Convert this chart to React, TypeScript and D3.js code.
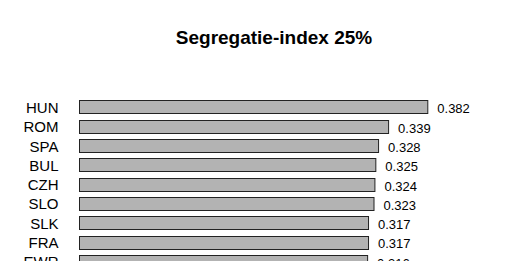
import React from "react";
import * as d3 from "d3";

const categories = ["HUN", "ROM", "SPA", "BUL", "CZH", "SLO", "SLK", "FRA", "EWR"];
const values = [0.382, 0.339, 0.328, 0.325, 0.324, 0.323, 0.317, 0.317, 0.316];
const title = "Segregatie-index 25%";

export default function App() {
  const W = 511;
  const H = 261;
  const x = d3.scaleLinear().domain([0, 0.382]).range([79, 427.3]);
  const step = 19.3;
  const y = d3
    .scaleBand<string>()
    .domain(categories)
    .range([97.1, 97.1 + categories.length * step])
    .paddingInner(0.35)
    .paddingOuter(0.175);
  const font = "'Liberation Sans', Arial, Helvetica, sans-serif";
  return (
    <svg
      width={W}
      height={H}
      style={{ position: "absolute", left: 0, top: 0, background: "#fff" }}
    >
      <rect x={0} y={0} width={W} height={H} fill="#fff" />
      <text
        x={274}
        y={44}
        textAnchor="middle"
        fontFamily={font}
        fontWeight="bold"
        fontSize={19}
        fill="#000"
      >
        {title}
      </text>
      {categories.map((c, i) => {
        const y0 = y(c)!;
        const bh = y.bandwidth();
        const cy = y0 + bh / 2;
        return (
          <g key={c}>
            <rect
              x={x(0) + 0.5}
              y={Math.round(y0) + 0.5}
              width={x(values[i]) - x(0)}
              height={Math.round(bh)}
              fill="#b3b3b3"
              stroke="#222"
              strokeWidth={1}
            />
            <text
              x={58.5}
              y={cy + 6.2}
              textAnchor="end"
              fontFamily={font}
              fontSize={15}
              fill="#000"
            >
              {c}
            </text>
            <text
              x={x(values[i]) + 10}
              y={cy + 6.6}
              textAnchor="start"
              fontFamily={font}
              fontSize={13}
              fill="#000"
            >
              {values[i].toFixed(3)}
            </text>
          </g>
        );
      })}
    </svg>
  );
}
